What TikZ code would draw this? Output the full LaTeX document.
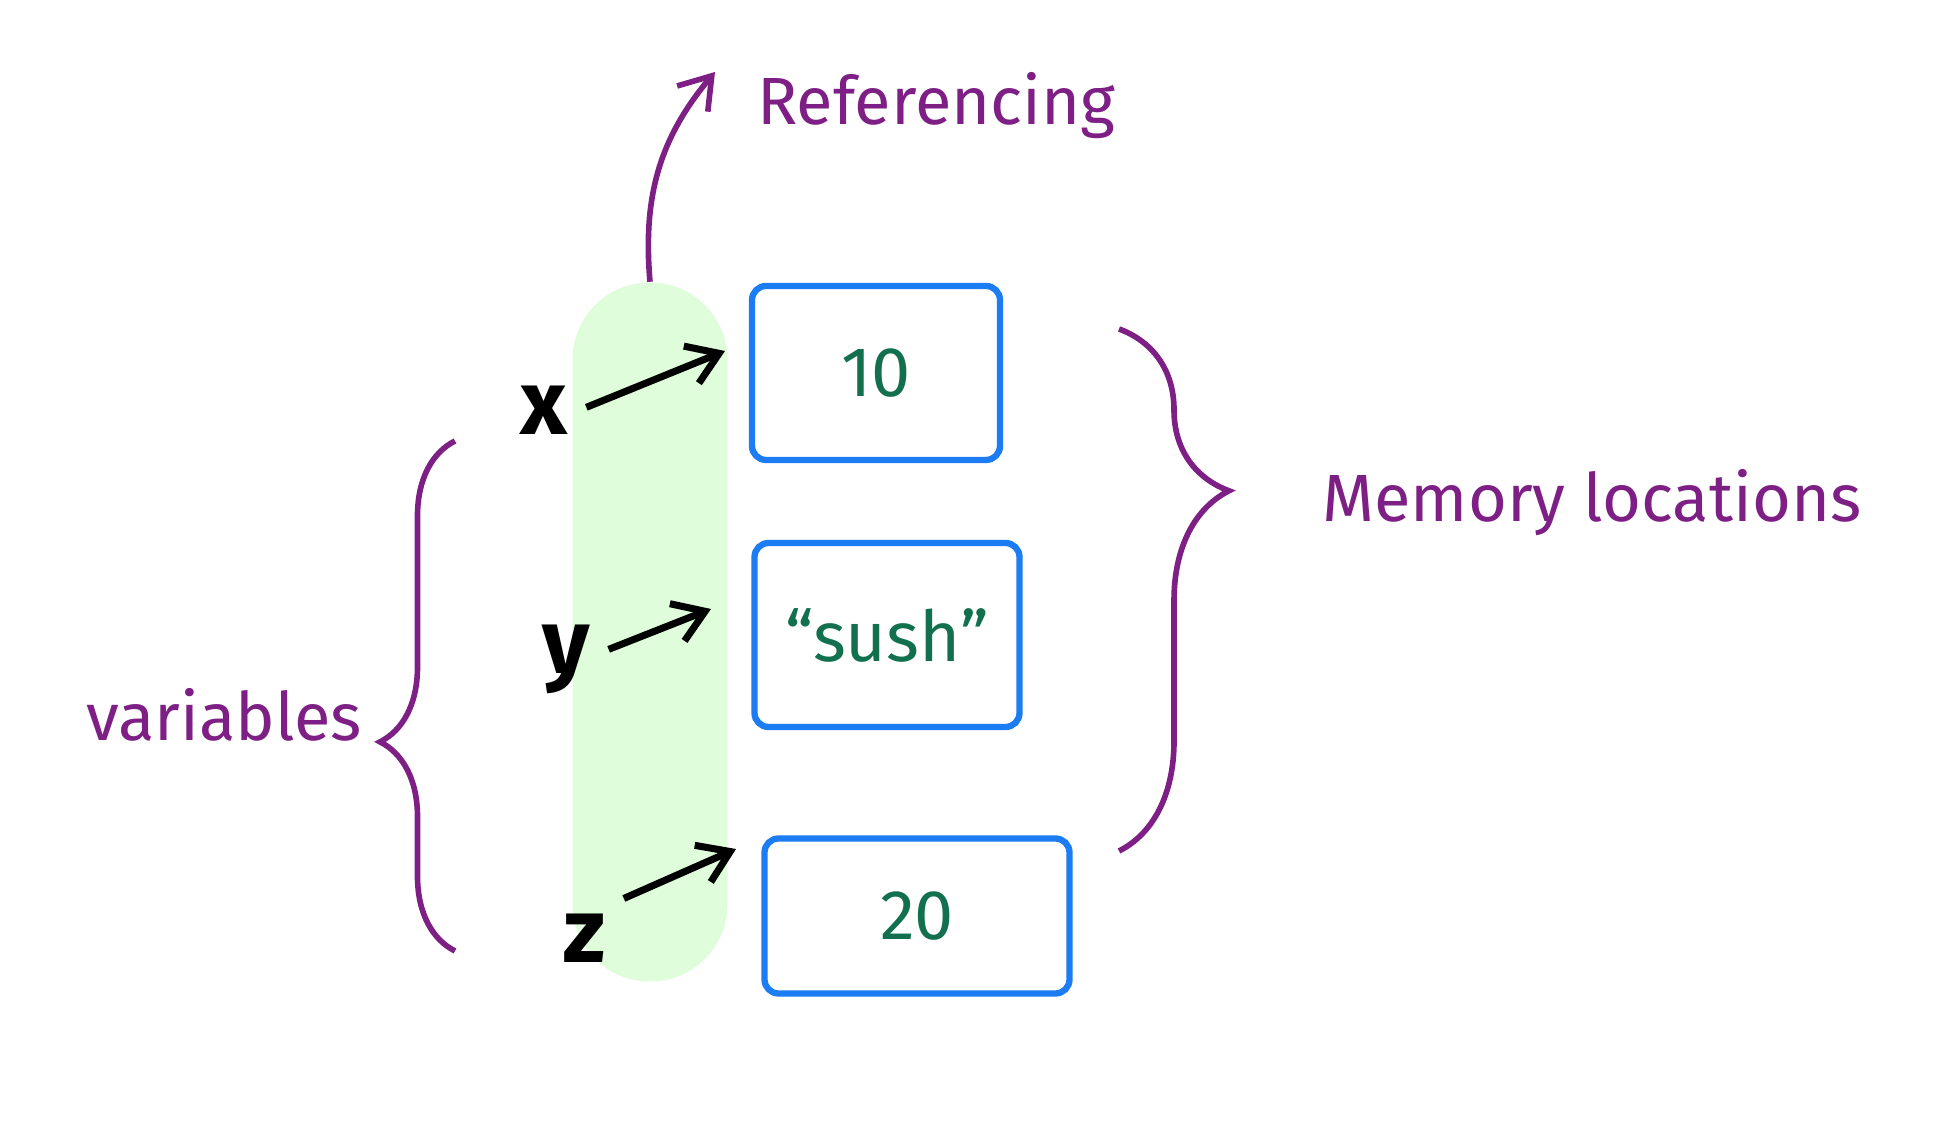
\documentclass[tikz,border=0pt]{standalone}
\usepackage{fontspec}
\setmainfont{Fira Sans}
\usepackage{xcolor}
\usetikzlibrary{positioning, arrows.meta, decorations.pathreplacing}
\definecolor{plum}{HTML}{7E1F86}
\definecolor{cell}{HTML}{1C7CF4}
\definecolor{val}{HTML}{12704F}
\definecolor{track}{HTML}{DFFCDB}

\begin{document}
\begin{tikzpicture}[
  lbl/.style={text=plum, font=\fontsize{19}{22}\selectfont},
  var/.style={text=black, font=\fontsize{26}{30}\selectfont\bfseries},
  slot/.style={rectangle, rounded corners=4pt, draw=cell, line width=1.8pt,
    text=val, font=\fontsize{20}{24}\selectfont},
  ptr/.style={-{Straight Barb[length=3mm, width=4mm]}, draw=black, line width=2pt, shorten <=2pt},
  arr/.style={-{Straight Barb[length=3mm, width=4mm]}, draw=plum, line width=1.6pt},
  brc/.style={draw=plum, line width=1.6pt, decorate}
]
\useasboundingbox (0,0) rectangle (19.49,11.24);

% green strip behind the pointers
\node[fill=track, rounded corners=0.77cm, minimum width=1.55cm, minimum height=6.99cm,
  inner sep=0pt] (pill) at (6.50,4.92) {};

% memory cells
\node[slot, minimum width=2.48cm, minimum height=1.74cm] (cellx) at (8.76,7.51) {10};
\node[slot, minimum width=2.65cm, minimum height=1.84cm] (celly) at (8.87,4.89) {``sush''};
\node[slot, minimum width=3.05cm, minimum height=1.55cm] (cellz) at (9.17,2.08) {20};

% variable names
\node[var] (x) at (5.44,7.14) {x};
\node[var] (y) at (5.66,4.65) {y};
\node[var] (z) at (5.84,1.86) {z};

\coordinate (xin) at (7.25,7.73);
\coordinate (yin) at (7.11,5.15);
\coordinate (zin) at (7.36,2.75);
\draw[ptr] (x.east) -- (xin);
\draw[ptr] ([yshift=2pt]y.east) -- (yin);
\draw[ptr] (z.north east) -- (zin);

% labels
\node[lbl, anchor=west] (ref) at (7.45,10.18) {Referencing};
\node[lbl, anchor=west] (mem) at (13.10,6.21) {Memory locations};
\node[lbl] (vars) at (2.24,4.09) {variables};

\coordinate (refin) at (7.15,10.52);
\draw[arr] (pill.north) to[out=95, in=230] (refin);

% braces
\coordinate (vbot) at (4.55,1.73);
\coordinate (vtop) at (4.55,6.83);
\draw[brc, decoration={brace, amplitude=0.75cm, aspect=0.41}] (vbot) -- (vtop);
\coordinate (mtop) at (11.19,7.95);
\coordinate (mbot) at (11.19,2.73);
\draw[brc, decoration={brace, amplitude=1.1cm, aspect=0.31}] (mtop) -- (mbot);
\end{tikzpicture}
\end{document}
